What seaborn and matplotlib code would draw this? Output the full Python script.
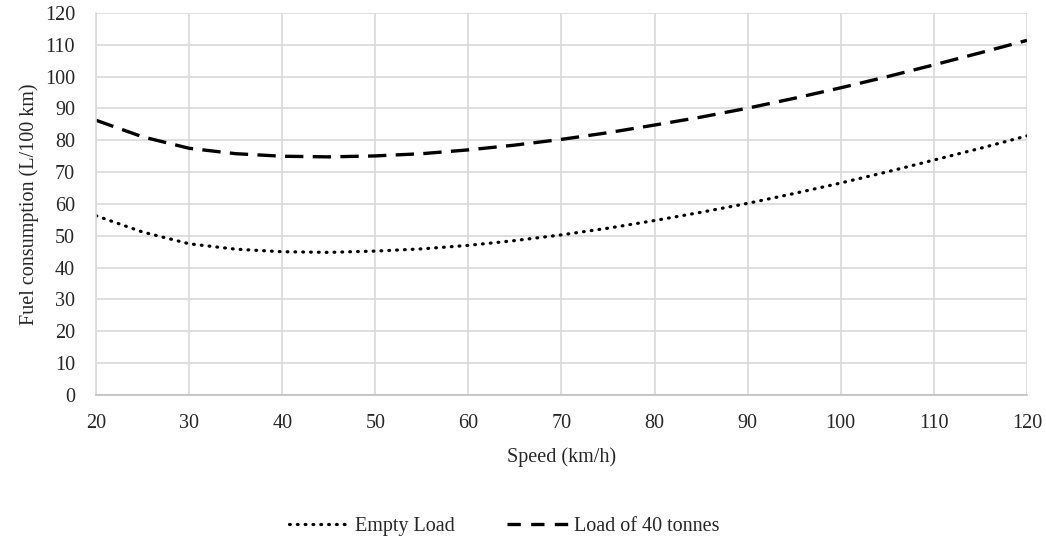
import numpy as np
import pandas as pd
import matplotlib
matplotlib.use("Agg")
import matplotlib.pyplot as plt
import seaborn as sns

# values
speed = [20, 25, 30, 35, 40, 45, 50, 55, 60, 65, 70, 75, 80, 85, 90, 95, 100, 105, 110, 115, 120]
empty_load = [56.3, 51.2, 47.5, 45.8, 45.0, 44.8, 45.2, 45.9, 47.0, 48.5, 50.3, 52.4, 54.8, 57.4,
              60.2, 63.3, 66.6, 70.1, 73.8, 77.5, 81.4]
load_40t = [86.3, 81.1, 77.5, 75.8, 75.0, 74.8, 75.1, 75.8, 77.0, 78.5, 80.3, 82.4, 84.8, 87.3,
            90.1, 93.2, 96.5, 100.0, 103.7, 107.5, 111.4]
series_names = ["Empty Load", "Load of 40 tonnes"]

df = pd.DataFrame({
    "speed": speed * 2,
    "fuel": empty_load + load_40t,
    "series": [series_names[0]] * len(speed) + [series_names[1]] * len(speed),
})

sns.set_style("white")
plt.rcParams["font.family"] = ["Liberation Serif", "DejaVu Serif"]
plt.rcParams["font.size"] = 14.5

fig = plt.figure(figsize=(10.46, 5.39), dpi=100)
ax = fig.add_axes([0.0918, 0.2672, 0.89, 0.7087])

widths = [2.3, 2.4]
sns.lineplot(data=df, x="speed", y="fuel", hue="series", style="series",
             palette={series_names[0]: "black", series_names[1]: "black"},
             dashes={series_names[0]: (0.25, 2.2), series_names[1]: (5.5, 2.8)},
             ax=ax, legend=True)
for line, lw in zip(ax.get_lines()[:2], widths):
    line.set_linewidth(lw)
ax.get_lines()[0].set_dash_capstyle("round")

ax.set_xlim(20, 120)
ax.set_ylim(0, 120)
ax.set_xticks(range(20, 121, 10))
ax.set_yticks(range(0, 121, 10))
ax.grid(True, color="#d9d9d9", linewidth=1.2)
ax.set_axisbelow(True)
for side in ["top", "right"]:
    ax.spines[side].set_visible(False)
ax.spines["left"].set_color("#d9d9d9")
ax.spines["bottom"].set_color("#bfbfbf")
ax.spines["left"].set_linewidth(1.2)
ax.spines["bottom"].set_linewidth(1.2)
ax.tick_params(axis="x", length=0, pad=14, labelsize=14.5)
ax.tick_params(axis="y", length=0, pad=15, labelsize=14.5)
ax.set_xlabel("Speed (km/h)", fontsize=14.5, labelpad=10)
ax.set_ylabel("Fuel consumption (L/100 km)", fontsize=14.5, labelpad=4)

handles, labels = ax.get_legend_handles_labels()
ax.get_legend().remove()
for h, lw in zip(handles, widths):
    h.set_linewidth(lw)
handles[0].set_dash_capstyle("round")
handles[1].set_dashes((4.0, 3.1))
fig.legend(handles, labels, loc="center", bbox_to_anchor=(0.482, 0.024), ncol=2,
           frameon=False, fontsize=14.5, handlelength=3.0, handletextpad=0.3,
           columnspacing=2.6)

fig.savefig("out.png", dpi=100)
